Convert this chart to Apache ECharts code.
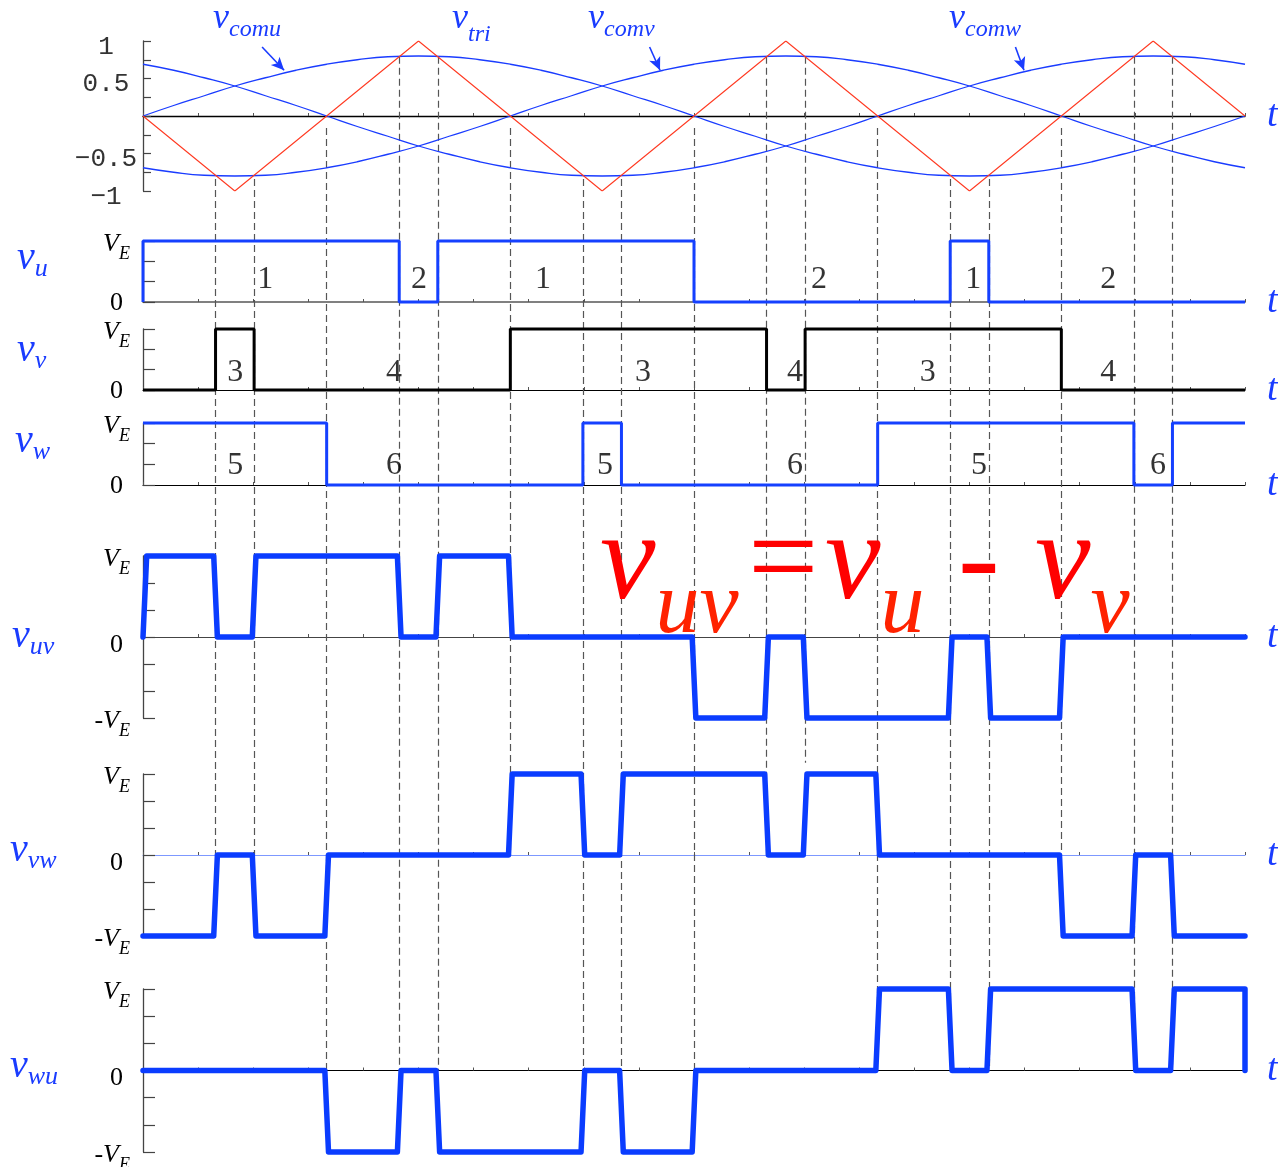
<!DOCTYPE html>
<html>
<head>
<meta charset="utf-8">
<title>Three-phase PWM waveforms</title>
<script src="https://cdn.jsdelivr.net/npm/echarts@6/dist/echarts.min.js"></script>
<style>
  html, body { margin: 0; padding: 0; background: #ffffff; }
  #chart { width: 1278px; height: 1167px; }
</style>
</head>
<body>
<div id="chart"></div>
<script>
// ---------- data (phase angle in degrees over one fundamental period) ----------
const angleDeg = [0,10,20,30,40,50,60,70,80,90,100,110,120,130,140,150,160,170,180,
  190,200,210,220,230,240,250,260,270,280,290,300,310,320,330,340,350,360];
const vcomu = [0.00,0.14,0.27,0.40,0.51,0.61,0.69,0.75,0.79,0.80,0.79,0.75,0.69,0.61,0.51,0.40,0.27,0.14,0.00,
  -0.14,-0.27,-0.40,-0.51,-0.61,-0.69,-0.75,-0.79,-0.80,-0.79,-0.75,-0.69,-0.61,-0.51,-0.40,-0.27,-0.14,0.00];
const vcomv = [-0.69,-0.75,-0.79,-0.80,-0.79,-0.75,-0.69,-0.61,-0.51,-0.40,-0.27,-0.14,0.00,0.14,0.27,0.40,0.51,0.61,0.69,
  0.75,0.79,0.80,0.79,0.75,0.69,0.61,0.51,0.40,0.27,0.14,0.00,-0.14,-0.27,-0.40,-0.51,-0.61,-0.69];
const vcomw = [0.69,0.61,0.51,0.40,0.27,0.14,0.00,-0.14,-0.27,-0.40,-0.51,-0.61,-0.69,-0.75,-0.79,-0.80,-0.79,-0.75,-0.69,
  -0.61,-0.51,-0.40,-0.27,-0.14,0.00,0.14,0.27,0.40,0.51,0.61,0.69,0.75,0.79,0.80,0.79,0.75,0.69];

// triangular carrier vertices
const triDeg = [0, 30, 90, 150, 210, 270, 330, 360];
const triVal = [0, -1, 1, -1, 1, -1, 1, 0];

// switching instants; each signal below holds one level per interval
const switchDeg = [0,23.7,36.3,60,83.7,96.3,120,143.7,156.3,180,203.7,216.3,240,263.7,276.3,300,323.7,336.3,360];
const vu  = [1,1,1,1,0,1,1,1,1,0,0,0,0,1,0,0,0,0];
const vv  = [0,1,0,0,0,0,1,1,1,1,0,1,1,1,1,0,0,0];
const vw  = [1,1,1,0,0,0,0,1,0,0,0,0,1,1,1,1,0,1];
const vuv = [1,0,1,1,0,1,0,0,0,-1,0,-1,-1,0,-1,0,0,0];
const vvw = [-1,0,-1,0,0,0,1,0,1,1,0,1,0,0,0,-1,0,-1];
const vwu = [0,0,0,-1,0,-1,-1,0,-1,0,0,0,1,0,1,1,0,1];

// dashed guides: start value on the comparator scale, and the panel/level where each one stops
const guideStart = [-0.84,-0.84,-0.16,0.79,0.79,-0.16,-0.84,-0.84,-0.16,0.79,0.79,-0.16,-0.84,-0.84,-0.16,0.79,0.79];
const guideEndPanel = ['vvw','vvw','vwu','vwu','vwu','vvw','vwu','vwu','vwu','vvw','vvw','vwu','vwu','vwu','vvw','vwu','vwu'];
const guideEndLevel = [0,0,0,0,0,0,0,0,0,0,1.14,0,0,0,0,0,0];

// switching-state numbers written inside the phase panels
const vuNumDeg = [39.9, 90.2, 130.7, 220.8, 271.2, 315.3];
const vuNums   = ['1','2','1','2','1','2'];
const vvNumDeg = [30.1, 82.0, 163.3, 213.0, 256.4, 315.3];
const vvNums   = ['3','4','3','4','3','4'];
const vwNumDeg = [30.1, 82.0, 150.9, 213.0, 273.1, 331.6];
const vwNums   = ['5','6','5','6','5','6'];

// ---------- layout ----------
const SERIF = '"Liberation Serif","Times New Roman",serif';
const MONO = '"Liberation Mono","DejaVu Sans Mono",monospace';
const BLUE = '#1a3cff';
const THICK_BLUE = '#0a3cff';
const PLOT_LEFT = 143, PLOT_WIDTH = 1102;

const panels = [
  { key: 'top', top: 41,  height: 150, min: -1, max: 1, axisColor: '#000',    axisWidth: 1.3 },
  { key: 'vu',  top: 241, height: 61,  min: 0,  max: 1, axisColor: '#808080', axisWidth: 2 },
  { key: 'vv',  top: 329, height: 61,  min: 0,  max: 1, axisColor: '#000',    axisWidth: 1.2 },
  { key: 'vw',  top: 423, height: 62,  min: 0,  max: 1, axisColor: '#000',    axisWidth: 1.2 },
  { key: 'vuv', top: 556, height: 162, min: -1, max: 1, axisColor: '#444',    axisWidth: 1.2 },
  { key: 'vvw', top: 774, height: 162, min: -1, max: 1, axisColor: '#7d98ff', axisWidth: 1.2 },
  { key: 'vwu', top: 989, height: 163, min: -1, max: 1, axisColor: '#000',    axisWidth: 1.2 }
];
const panelIndex = {};
panels.forEach((p, i) => { panelIndex[p.key] = i; });
// full-height layer for the dashed guides, sharing the scale of the top panel
const overlay = { top: 41, height: 1111, max: 1, min: 1 - 1111 / 75 };
const OVERLAY = panels.length;

function levelToOverlay(key, level) {
  const p = panels[panelIndex[key]];
  const py = p.top + (p.max - level) / (p.max - p.min) * p.height;
  return overlay.max - (py - overlay.top) / overlay.height * (overlay.max - overlay.min);
}

// build a stepped trace from interval levels; ramp (deg) gives edges a small slope
function stepLine(levels, ramp, first, last) {
  const pts = [];
  const n = levels.length;
  if (first !== undefined && first !== levels[0]) pts.push([switchDeg[0], first]);
  for (let i = 0; i < n; i++) {
    const L = levels[i];
    let a = switchDeg[i], b = switchDeg[i + 1];
    if (i === 0) { if (first !== undefined && first !== L) a += ramp; }
    else if (levels[i - 1] !== L) a += ramp / 2;
    if (i < n - 1 && levels[i + 1] !== L) b -= ramp / 2;
    pts.push([a, L], [b, L]);
  }
  if (last !== undefined && last !== levels[n - 1]) pts.push([switchDeg[n], last]);
  return pts;
}

const zip = (xs, ys) => xs.map((x, i) => [x, ys[i]]);

// ---------- axes ----------
const tName = {
  fontFamily: SERIF, fontStyle: 'italic', fontSize: 38, color: BLUE,
  align: 'left', verticalAlign: 'middle', padding: [10, 0, 0, 0]
};

const grids = panels.map(p => ({ left: PLOT_LEFT, width: PLOT_WIDTH, top: p.top, height: p.height,
  containLabel: false, outerBoundsMode: 'none' }));
grids.push({ left: PLOT_LEFT, width: PLOT_WIDTH, top: overlay.top, height: overlay.height,
  containLabel: false, outerBoundsMode: 'none' });

const xAxes = panels.map((p, i) => ({
  type: 'value', gridIndex: i, min: 0, max: 360, interval: 18,
  axisLine: { show: true, onZero: true, lineStyle: { color: p.axisColor, width: p.axisWidth } },
  axisTick: { show: true, inside: true, length: 3, lineStyle: { color: '#555', width: 1 } },
  axisLabel: { show: false },
  splitLine: { show: false },
  name: 't', nameLocation: 'end', nameGap: 22, nameTextStyle: tName
}));
xAxes.push({ type: 'value', gridIndex: OVERLAY, min: 0, max: 360, show: false });

const veRich = {
  m: { fontFamily: SERIF, fontStyle: 'italic', fontSize: 26, color: '#000', verticalAlign: 'top', padding: [12, 0, 0, 0] },
  s: { fontFamily: SERIF, fontStyle: 'italic', fontSize: 18, color: '#000', verticalAlign: 'top', padding: [26, 0, 0, 0] },
  z: { fontFamily: SERIF, fontSize: 26, color: '#000', verticalAlign: 'top', padding: [3, 7, 0, 0] },
  z3: { fontFamily: SERIF, fontSize: 26, color: '#000', verticalAlign: 'top', padding: [16, 7, 0, 0] }
};
const topTickText = { 1: '1', 0.5: '0.5', '-0.5': '\u22120.5', '-1': '\u22121' };

const yAxes = panels.map((p, i) => {
  const base = {
    type: 'value', gridIndex: i, min: p.min, max: p.max,
    axisLine: { show: true, onZero: false, lineStyle: { color: '#444', width: 1.3 } },
    splitLine: { show: false }
  };
  if (p.key === 'top') {
    return Object.assign(base, {
      interval: 0.25,
      axisTick: { show: true, inside: true, length: 8, lineStyle: { color: '#444', width: 1.2 } },
      axisLabel: {
        margin: 37, align: 'center',
        rich: { a: { fontFamily: MONO, fontSize: 26, color: '#333', verticalAlign: 'top', padding: [12, 0, 0, 0] } },
        formatter: v => (topTickText[String(v)] ? '{a|' + topTickText[String(v)] + '}' : '')
      }
    });
  }
  const threeLevel = p.min < 0;
  return Object.assign(base, {
    interval: 1,
    axisTick: { show: true, inside: true, length: 12, lineStyle: { color: '#444', width: 1.2 } },
    minorTick: { show: true, splitNumber: 3, length: 12, lineStyle: { color: '#444', width: 1.2 } },
    axisLabel: {
      margin: 13, rich: veRich,
      formatter: v => (v === 1 ? '{m|V}{s|E}' : v === -1 ? '{m|-V}{s|E}' : (threeLevel ? '{z3|0}' : '{z|0}'))
    }
  });
});
yAxes.push({ type: 'value', gridIndex: OVERLAY, min: overlay.min, max: overlay.max, show: false });

// ---------- series ----------
const arrowStyle = { color: BLUE, width: 1.6, type: 'solid' };
const series = [
  {
    name: 'vcomu', type: 'line', xAxisIndex: 0, yAxisIndex: 0, data: zip(angleDeg, vcomu),
    smooth: true, showSymbol: false, lineStyle: { color: BLUE, width: 1.3 }, z: 3,
    markLine: {
      silent: true, symbol: ['none', 'arrow'], symbolSize: [9, 13], lineStyle: arrowStyle,
      label: { show: false },
      data: [
        [{ coord: [38.9, 0.92] }, { coord: [46.1, 0.61] }],
        [{ coord: [99.6, 1.07] }, { coord: [94.0, 0.92] }],
        [{ coord: [165.5, 0.92] }, { coord: [168.9, 0.61] }],
        [{ coord: [285.0, 0.92] }, { coord: [287.8, 0.61] }]
      ]
    }
  },
  { name: 'vcomv', type: 'line', xAxisIndex: 0, yAxisIndex: 0, data: zip(angleDeg, vcomv),
    smooth: true, showSymbol: false, lineStyle: { color: BLUE, width: 1.3 }, z: 3 },
  { name: 'vcomw', type: 'line', xAxisIndex: 0, yAxisIndex: 0, data: zip(angleDeg, vcomw),
    smooth: true, showSymbol: false, lineStyle: { color: BLUE, width: 1.3 }, z: 3 },
  { name: 'vtri', type: 'line', xAxisIndex: 0, yAxisIndex: 0, data: zip(triDeg, triVal),
    showSymbol: false, lineStyle: { color: '#ff3a22', width: 1.1 }, z: 4 },

  { name: 'vu', type: 'line', xAxisIndex: 1, yAxisIndex: 1, data: stepLine(vu, 0, 0),
    showSymbol: false, clip: false, lineStyle: { color: '#1540ff', width: 3 }, z: 3 },
  { name: 'vv', type: 'line', xAxisIndex: 2, yAxisIndex: 2, data: stepLine(vv, 0),
    showSymbol: false, clip: false, lineStyle: { color: '#000', width: 3 }, z: 3 },
  { name: 'vw', type: 'line', xAxisIndex: 3, yAxisIndex: 3, data: stepLine(vw, 0),
    showSymbol: false, clip: false, lineStyle: { color: '#1540ff', width: 3 }, z: 3 },

  { name: 'vuv', type: 'line', xAxisIndex: 4, yAxisIndex: 4, data: stepLine(vuv, 1.2, 0),
    showSymbol: false, clip: false, lineStyle: { color: THICK_BLUE, width: 5.5, join: 'round', cap: 'round' }, z: 3 },
  { name: 'vvw', type: 'line', xAxisIndex: 5, yAxisIndex: 5, data: stepLine(vvw, 1.2),
    showSymbol: false, clip: false, lineStyle: { color: THICK_BLUE, width: 5.5, join: 'round', cap: 'round' }, z: 3 },
  { name: 'vwu', type: 'line', xAxisIndex: 6, yAxisIndex: 6, data: stepLine(vwu, 1.2, undefined, 0),
    showSymbol: false, clip: false, lineStyle: { color: THICK_BLUE, width: 5.5, join: 'round', cap: 'round' }, z: 3 },

  {
    name: 'guides', type: 'lines', coordinateSystem: 'cartesian2d', xAxisIndex: OVERLAY, yAxisIndex: OVERLAY,
    silent: true, z: 1,
    lineStyle: { color: '#555', width: 1.2, type: [7, 4], opacity: 1 },
    data: guideStart.map((v, i) => ({
      coords: [[switchDeg[i + 1], v], [switchDeg[i + 1], levelToOverlay(guideEndPanel[i], guideEndLevel[i])]]
    }))
  }
];

function numberSeries(axis, degs, nums, level) {
  return {
    type: 'scatter', xAxisIndex: axis, yAxisIndex: axis, symbolSize: 1, clip: false, silent: true, z: 5,
    itemStyle: { color: 'rgba(0,0,0,0)' },
    label: { show: true, position: 'inside', formatter: '{b}', fontFamily: SERIF, fontSize: 32, color: '#000' },
    data: degs.map((d, i) => ({ name: nums[i], value: [d, level] }))
  };
}
series.push(numberSeries(1, vuNumDeg, vuNums, 0.36));
series.push(numberSeries(2, vvNumDeg, vvNums, 0.28));
series.push(numberSeries(3, vwNumDeg, vwNums, 0.32));

// ---------- text annotations ----------
function subText(x, y, main, sub, o) {
  return {
    type: 'text', x: x, y: y, z: 10, silent: true,
    style: {
      text: '{m|' + main + '}{s|' + sub + '}',
      align: 'left', verticalAlign: 'top',
      rich: {
        m: { fontFamily: SERIF, fontStyle: 'italic', fontSize: o.fm, fill: o.color, verticalAlign: 'top' },
        s: { fontFamily: SERIF, fontStyle: 'italic', fontSize: o.fs, fill: o.subColor || o.color,
             verticalAlign: 'top', padding: [o.drop, 0, 0, 0] }
      }
    }
  };
}
function plainText(x, y, txt, o) {
  return {
    type: 'text', x: x, y: y, z: 10, silent: true,
    style: { text: txt, align: 'left', verticalAlign: 'top',
      font: (o.italic ? 'italic ' : '') + o.fs + 'px ' + SERIF, fill: o.color }
  };
}

const rowStyle = { fm: 40, fs: 26, color: BLUE, drop: 18 };
const topStyle = { fm: 36, fs: 24, color: BLUE, drop: 17 };
const redBig = { fm: 125, fs: 88, color: '#ff0000', subColor: '#ff2200', drop: 62 };

const graphics = [
  subText(17, 238, 'v', 'u', rowStyle),
  subText(17, 330, 'v', 'v', rowStyle),
  subText(15, 421, 'v', 'w', rowStyle),
  subText(12, 616, 'v', 'uv', rowStyle),
  subText(10, 830, 'v', 'vw', rowStyle),
  subText(10, 1046, 'v', 'wu', rowStyle),

  subText(213, 1, 'v', 'comu', topStyle),
  subText(452, 1, 'v', 'tri', Object.assign({}, topStyle, { drop: 22 })),
  subText(588, 1, 'v', 'comv', topStyle),
  subText(949, 1, 'v', 'comw', topStyle),

  subText(600, 503, 'v', 'uv', redBig),
  plainText(748, 503, '=', { fs: 125, color: '#ff0000' }),
  subText(825, 503, 'v', 'u', redBig),
  plainText(958, 503, '-', { fs: 125, color: '#ff0000' }),
  subText(1035, 503, 'v', 'v', redBig)
];

const chart = echarts.init(document.getElementById('chart'), null, { renderer: 'canvas' });
chart.setOption({
  animation: false,
  backgroundColor: '#ffffff',
  grid: grids,
  xAxis: xAxes,
  yAxis: yAxes,
  series: series,
  graphic: graphics
});
</script>
</body>
</html>
